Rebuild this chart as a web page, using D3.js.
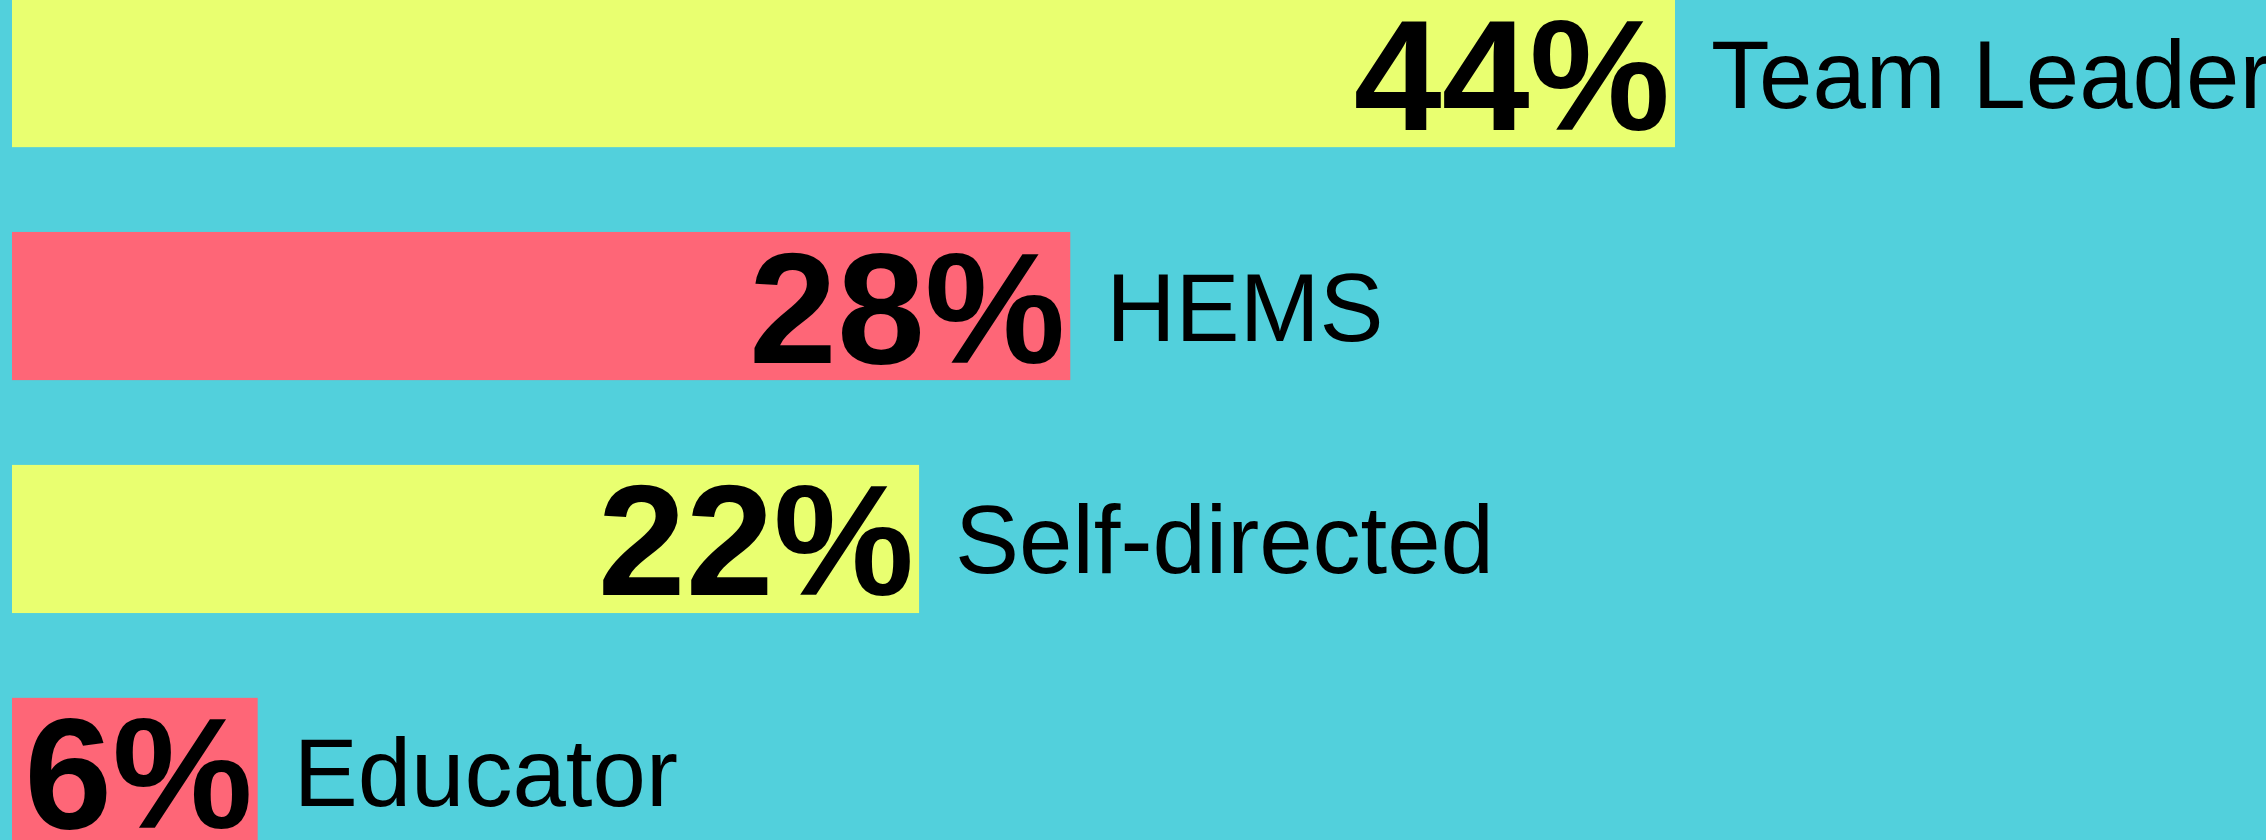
<!DOCTYPE html>
<html>
<head>
<meta charset="utf-8">
<script src="https://cdn.jsdelivr.net/npm/d3@7"></script>
<style>
  html, body { margin: 0; padding: 0; background: #52d0dc; overflow: hidden; }
</style>
</head>
<body>
<div id="chart"></div>
<script>
// data
const categories = ['Team Leader', 'HEMS', 'Self-directed', 'Educator'];
const percentLabels = [44, 28, 22, 6];
// bar lengths (in % units)
const barValues = [44, 28, 24, 6.5];
const barColors = ['#e9ff70', '#fe6677', '#e9ff70', '#fe6677'];

(function(){
    const width = 2266;
    const height = 840;
    const left = 12;

    const svg = d3.select('#chart')
        .append('svg')
            .attr('width', width)
            .attr('height', height)
            .style('display', 'block');

    svg.append('rect')
        .attr('width', width)
        .attr('height', height)
        .attr('fill', '#52d0dc');

    const xScale = d3.scaleLinear()
        .domain([0, 44])
        .range([left, 1675]);

    const yScale = d3.scaleBand()
        .domain(categories)
        .range([-1, 846])
        .paddingInner(0.364)
        .paddingOuter(0);

    const rows = svg.selectAll('.row')
        .data(categories.map((c, i) => ({
            category: c,
            label: percentLabels[i],
            value: barValues[i],
            color: barColors[i]
        })))
        .enter()
        .append('g')
            .attr('class', 'row')
            .attr('transform', d => `translate(0, ${yScale(d.category)})`);

    const bh = yScale.bandwidth();

    rows.append('rect')
        .attr('x', xScale(0))
        .attr('y', 0)
        .attr('width', d => xScale(d.value) - xScale(0))
        .attr('height', bh)
        .attr('fill', d => d.color);

    // big percentage inside the bar
    rows.append('text')
        .attr('x', d => xScale(d.value) - 5)
        .attr('y', bh / 2 + 113 / 2)
        .style('text-anchor', 'end')
        .style('font-family', '"Liberation Sans", Arial, sans-serif')
        .style('font-weight', 'bold')
        .style('font-size', '158px')
        .style('fill', '#000')
        .text(d => d.label + '%');

    // category name after the bar
    rows.append('text')
        .attr('x', d => xScale(d.value) + 36)
        .attr('y', bh / 2 + 69 / 2)
        .style('font-family', '"Liberation Sans", Arial, sans-serif')
        .style('font-size', '96px')
        .style('fill', '#000')
        .text(d => d.category);
}())
</script>
</body>
</html>
